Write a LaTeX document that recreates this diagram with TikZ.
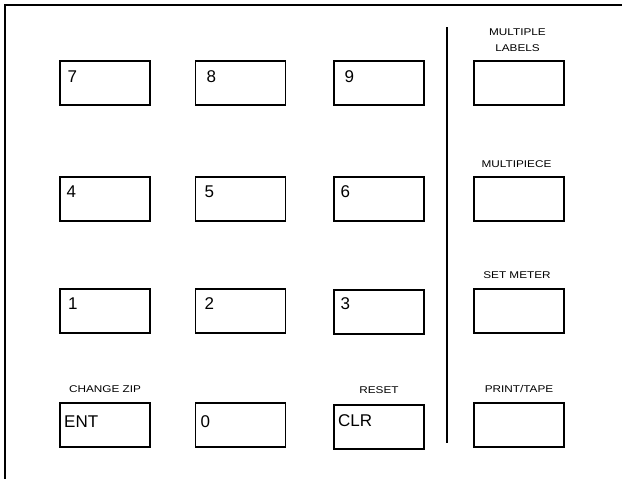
\documentclass[tikz,border=0pt]{standalone}
\usepackage{fontspec}
\setmainfont{Liberation Sans}
\newfontfamily\capfont[FakeStretch=1.2]{Liberation Sans}
\begin{document}
\begin{tikzpicture}[x=1pt, y=-1pt,
        key/.style={rectangle, draw, line width=1.6pt, minimum width=90pt, minimum height=44pt, inner sep=0pt},
        keytext/.style={anchor=base west, inner sep=0pt, font=\fontsize{17}{20}\selectfont},
        caption/.style={anchor=base, inner sep=0pt, align=center, font=\capfont\fontsize{9.8}{16}\selectfont},
        rule/.style={line width=1.6pt}
    ]
        \useasboundingbox (0,0) rectangle (622,479);
        % outer frame (cut off at right and bottom)
        \draw[rule, line width=1.8pt] (5,479) -- (5,5) -- (622,5);

        % number keys
        \node[key] (k7) at (105,83) {};
        \node[key] (k8) at (240.5,83) {};
        \node[key] (k9) at (379,83) {};
        \node[key] (k4) at (105,199) {};
        \node[key] (k5) at (240.5,199) {};
        \node[key] (k6) at (379,199) {};
        \node[key] (k1) at (105,311) {};
        \node[key] (k2) at (240.5,311) {};
        \node[key] (k3) at (379,312) {};
        \node[key] (kent) at (105,425) {};
        \node[key] (kzero) at (240.5,425) {};
        \node[key] (kclr) at (379,427) {};

        \node[keytext] (t7) at (67.5,82) {7};
        \node[keytext] (t8) at (206.5,82) {8};
        \node[keytext] (t9) at (344.5,82) {9};
        \node[keytext] (t4) at (66.5,197) {4};
        \node[keytext] (t5) at (204.5,197) {5};
        \node[keytext] (t6) at (340.5,197) {6};
        \node[keytext] (t1) at (68,309.5) {1};
        \node[keytext] (t2) at (204.5,309.5) {2};
        \node[keytext] (t3) at (340.5,309.5) {3};
        \node[keytext] (tent) at (64,427.5) {ENT};
        \node[keytext] (tzero) at (200.5,427.5) {0};
        \node[keytext] (tclr) at (338,426) {CLR};

        \node[caption] (cchange) at (105,392) {CHANGE ZIP};
        \node[caption] (creset) at (379,393) {RESET};

        % divider
        \coordinate (dtop) at (446.7,27);
        \coordinate (dbot) at (446.7,443);
        \draw[rule] (dtop) -- (dbot);

        % function keys
        \node[key] (kmulti) at (519,83) {};
        \node[key] (kpiece) at (519,199) {};
        \node[key] (kmeter) at (519,311) {};
        \node[key] (kprint) at (519,425) {};

        \node[caption, anchor=center] (cmulti) at (517.5,40.2) {MULTIPLE\\LABELS};
        \node[caption] (cpiece) at (516.5,167.5) {MULTIPIECE};
        \node[caption] (cmeter) at (517,278) {SET METER};
        \node[caption] (cprint) at (519,392) {PRINT/TAPE};
    \end{tikzpicture}
\end{document}
